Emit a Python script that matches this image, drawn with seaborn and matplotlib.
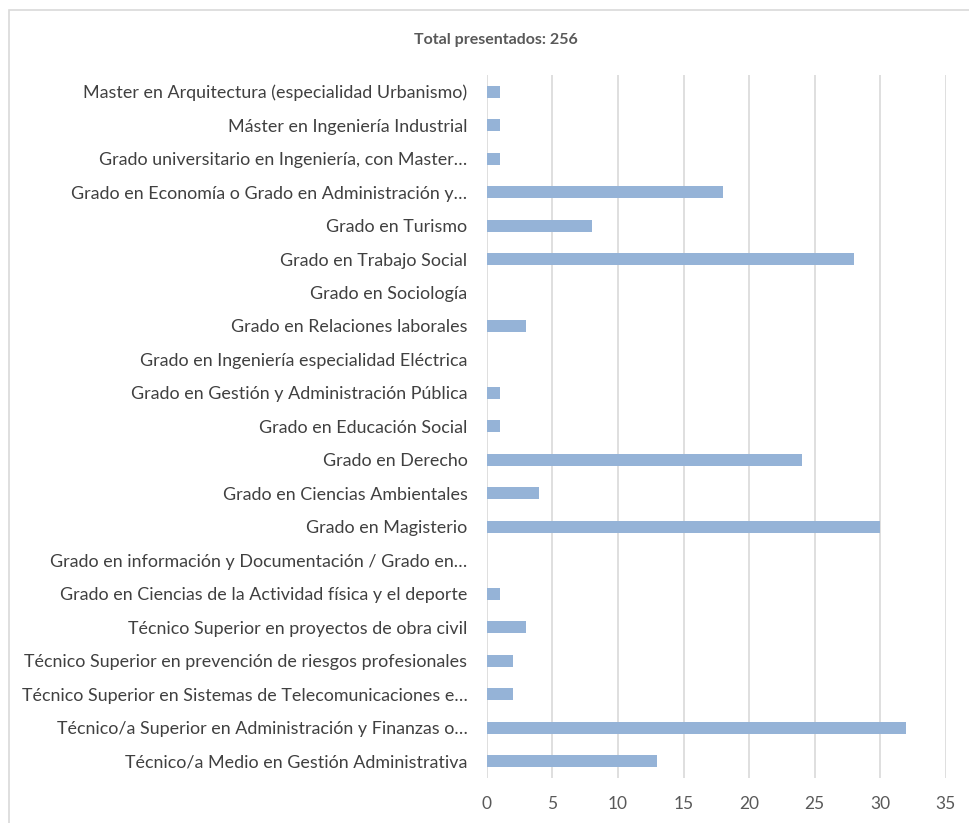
import pandas as pd
import seaborn as sns
import matplotlib.pyplot as plt
from matplotlib.patches import Rectangle

# datos
titulaciones = [
    'Master en Arquitectura (especialidad Urbanismo)',
    'Máster en Ingeniería Industrial',
    'Grado universitario en Ingeniería, con Master…',
    'Grado en Economía o Grado en Administración y…',
    'Grado en Turismo',
    'Grado en Trabajo Social',
    'Grado en Sociología',
    'Grado en Relaciones laborales',
    'Grado en Ingeniería especialidad Eléctrica',
    'Grado en Gestión y Administración Pública',
    'Grado en Educación Social',
    'Grado en Derecho',
    'Grado en Ciencias Ambientales',
    'Grado en Magisterio',
    'Grado en información y Documentación / Grado en…',
    'Grado en Ciencias de la Actividad física y el deporte',
    'Técnico Superior en proyectos de obra civil',
    'Técnico Superior en prevención de riesgos profesionales',
    'Técnico Superior en Sistemas de Telecomunicaciones e…',
    'Técnico/a Superior en Administración y Finanzas o…',
    'Técnico/a Medio en Gestión Administrativa',
]
presentados = [1, 1, 1, 18, 8, 28, 0, 3, 0, 1, 1, 24, 4, 30, 0, 1, 3, 2, 2, 32, 13]
ticks_x = [0, 5, 10, 15, 20, 25, 30, 35]

df = pd.DataFrame({'titulacion': titulaciones, 'presentados': presentados})

sns.set_style('white')
plt.rcParams['font.family'] = ['Lato', 'DejaVu Sans']

fig = plt.figure(figsize=(9.7, 8.23), dpi=100)
ax = fig.add_axes([0.502, 0.0547, 0.473, 0.8543])

sns.barplot(data=df, y='titulacion', x='presentados', orient='h',
            color='#95b3d7', width=0.36, linewidth=0,
            saturation=1, ax=ax)

ax.set_xlim(0, 35)
ax.set_ylim(20.5, -0.5)
ax.set_xticks(ticks_x)
ax.set_xticklabels([str(t) for t in ticks_x], fontsize=12.5, color='#595959')
ax.tick_params(axis='y', labelsize=12.9, labelcolor='#404040', length=0, pad=14)
ax.tick_params(axis='x', length=0, pad=13)
ax.xaxis.grid(True, color='#d9d9d9', linewidth=1.2)
ax.set_axisbelow(True)
for s in ax.spines.values():
    s.set_visible(False)
ax.set_xlabel('')
ax.set_ylabel('')

fig.text(0.511, 0.951, 'Total presentados: 256', ha='center', va='center',
         fontsize=11.5, fontweight='bold', color='#595959')

# marco del gráfico
fig.patches.append(Rectangle((9 / 970, -0.01), 1.0, 1 - 10 / 823 + 0.01,
                             transform=fig.transFigure, fill=False,
                             edgecolor='#d9d9d9', linewidth=1.2))

fig.savefig('out.png', dpi=100)
